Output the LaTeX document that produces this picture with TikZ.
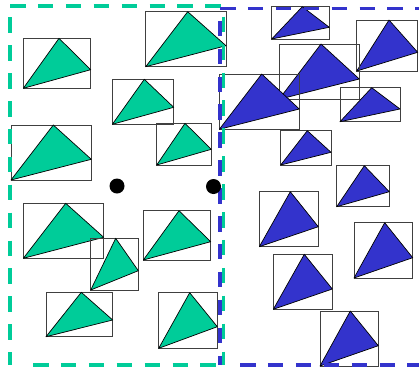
\documentclass[tikz,border=0pt]{standalone}
\usetikzlibrary{calc}
\definecolor{tgreen}{HTML}{00CC99}
\definecolor{tblue}{HTML}{3333CC}
\tikzset{
  boxline/.style={draw=black!75, line width=0.9pt},
  triline/.style={draw=black, line width=0.7pt, line join=round},
  regionline/.style={line width=3.3pt, dash pattern=on 15.5pt off 12.4pt},
}
% #1 x0, #2 y0 (top), #3 x1, #4 y1 (bottom), #5 apex x, #6 right vertex y, #7 fill colour
\newcommand\tribox[7]{%
  \draw[boxline] (#1,#2) rectangle (#3,#4);
  \filldraw[triline, fill=#7] (#1,#4) -- (#5,#2) -- (#3,#6) -- cycle;
}
\begin{document}
\begin{tikzpicture}[x=1pt,y=-1pt]
\useasboundingbox (0,0) rectangle (419,368);
\begin{scope}
\clip (0,0) rectangle (419,368);
% green objects
\tribox{23.3}{38.3}{90.7}{88.3}{59}{69.7}{tgreen}
\tribox{145.7}{11.7}{226}{66.7}{187.7}{45.7}{tgreen}
\tribox{112.3}{79.3}{173.7}{124.3}{144.3}{107.3}{tgreen}
\tribox{11}{125}{91.3}{180}{53.3}{159.3}{tgreen}
\tribox{156.7}{123.3}{211.3}{165}{185}{149.3}{tgreen}
\tribox{23.3}{203.3}{103.7}{258.3}{65.7}{237.3}{tgreen}
\tribox{90.7}{238.3}{138.3}{290}{115.7}{270.7}{tgreen}
\tribox{143.3}{210.7}{210.7}{260}{179}{241.7}{tgreen}
\tribox{46}{292.3}{112.7}{336.7}{81.3}{320}{tgreen}
\tribox{158.7}{292.7}{217.3}{348.3}{189.7}{326.7}{tgreen}
% blue objects
\tribox{271.7}{6.7}{329.3}{39}{302.3}{27.3}{tblue}
\tribox{356.7}{20}{417.7}{71}{389}{52.3}{tblue}
\tribox{279}{44}{359.3}{99.3}{321}{79}{tblue}
\tribox{219.3}{74}{299.3}{129.3}{261.7}{109}{tblue}
\tribox{340}{87.7}{400}{121.7}{371.7}{109}{tblue}
\tribox{280.7}{130.7}{331}{165}{307.3}{152.3}{tblue}
\tribox{336.7}{165.7}{389.3}{206.7}{364.3}{191.7}{tblue}
\tribox{259.3}{191.7}{318.3}{246.7}{290.3}{226.7}{tblue}
\tribox{354}{222.7}{412.7}{278}{384.7}{257.7}{tblue}
\tribox{273.3}{254.3}{332.3}{309.3}{304.3}{289}{tblue}
\tribox{320}{311}{378.3}{366}{350.3}{345.7}{tblue}
% green region (sides drawn separately to match the dash phase)
\coordinate (gtl) at (10,6);
\coordinate (gtr) at (223.3,6);
\coordinate (gbr) at (223.3,365);
\coordinate (gbl) at (10,365);
\coordinate (gbs) at (20.6,365);
\draw[regionline, draw=tgreen, dash phase=0pt] (gtl) -- (gtr);
\draw[regionline, draw=tgreen, dash phase=17.2pt] (gtr) -- (gbr);
\draw[regionline, draw=tgreen, dash phase=15.5pt] (gbs) -- (gbr);
\draw[regionline, draw=tgreen, dash phase=16.6pt] (gtl) -- (gbl);
% blue region
\coordinate (btl) at (220,8.3);
\coordinate (btr) at (430,8.3);
\coordinate (bbl) at (220,365);
\coordinate (bbs) at (227.6,365);
\coordinate (bbr) at (430,365);
\draw[regionline, draw=tblue, dash phase=0pt] (btl) -- (btr);
\draw[regionline, draw=tblue, dash phase=15.5pt] (btl) -- (bbl);
\draw[regionline, draw=tblue, dash phase=15.5pt] (bbs) -- (bbr);
% dots
\fill[black] (117,186) circle (7.5);
\fill[black] (213.5,186.5) circle (7.5);
\end{scope}
\end{tikzpicture}
\end{document}
